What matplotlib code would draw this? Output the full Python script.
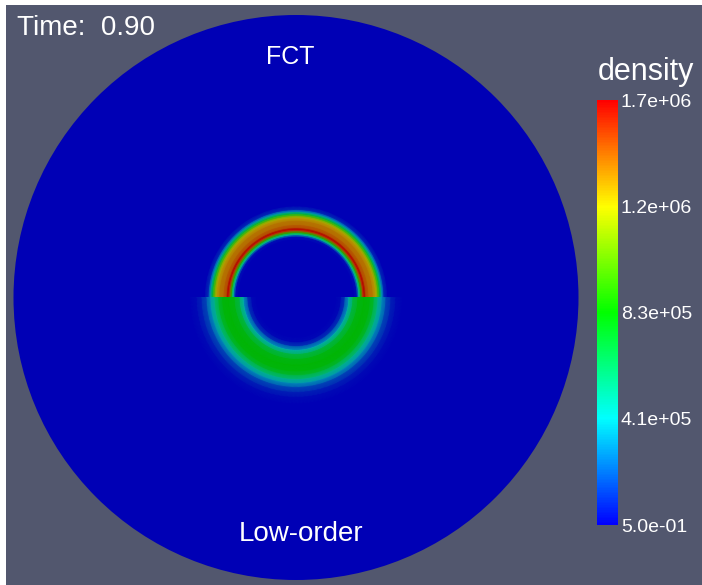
import numpy as np
import matplotlib
matplotlib.use("Agg")
import matplotlib.pyplot as plt
from matplotlib.colors import LinearSegmentedColormap, ListedColormap, Normalize
from matplotlib.patches import Circle
from matplotlib.cm import ScalarMappable

plt.rcParams['font.family'] = ['Liberation Sans', 'DejaVu Sans']

# density range shown by the colour bar
rho_min = 0.5
rho_max = 1.66e6
bar_ticks = [0.5, 4.15e5, 8.3e5, 1.245e6, 1.66e6]
bar_labels = ['5.0e-01', '4.1e+05', '8.3e+05', '1.2e+06', '1.7e+06']

# radial density profiles (r in pixels from the centre, density)
fct_r = [0, 58, 61, 63, 65, 67, 68.5, 70, 73, 77, 80, 82, 84, 86, 88, 91]
fct_rho = [0.5, 0.5, 5e4, 4.5e5, 9e5, 1.5e6, 1.66e6, 1.5e6, 1.42e6, 1.38e6,
           1.28e6, 1.05e6, 7e5, 3.5e5, 1.2e5, 0.5]
low_r = [0, 40, 45, 49, 53, 57, 62, 68, 74, 78, 82, 86, 90, 95, 100, 106]
low_rho = [0.5, 0.5, 3e4, 1.5e5, 4e5, 6.5e5, 7.8e5, 8.2e5, 8.0e5, 7.0e5,
           5.2e5, 3.4e5, 1.8e5, 8e4, 3e4, 0.5]

cx, cy, R = 296, 297.5, 282.5
bg = (0.32, 0.34, 0.43)

cmap = LinearSegmentedColormap.from_list(
    'rainbow', ['#0000ff', '#00ffff', '#00ff00', '#ffff00', '#ff0000'], N=256)
shaded = cmap(np.linspace(0, 1, 256))
shaded[:, :3] *= 0.71
cmap_lit = ListedColormap(shaded)
norm = Normalize(rho_min, rho_max)

fig = plt.figure(figsize=(7.02, 5.85), dpi=100, facecolor='white')
ax = fig.add_axes([6 / 702, 0, 696 / 702, 580 / 585])
ax.set_facecolor(bg)
ax.set_xlim(6, 702)
ax.set_ylim(585, 5)
ax.set_xticks([])
ax.set_yticks([])
for s in ax.spines.values():
    s.set_visible(False)

ax.add_patch(Circle((cx, cy), R, color=cmap_lit(0.0), lw=0))

# upper half: FCT, lower half: low-order
th_top = np.linspace(0, np.pi, 241)
T, Rr = np.meshgrid(th_top, fct_r)
C = np.tile(np.array(fct_rho)[:, None], (1, len(th_top)))
ax.pcolormesh(cx + Rr * np.cos(T), cy - Rr * np.sin(T), C, cmap=cmap_lit,
              norm=norm, shading='gouraud')

th_bot = np.linspace(np.pi, 2 * np.pi, 241)
T, Rr = np.meshgrid(th_bot, low_r)
C = np.tile(np.array(low_rho)[:, None], (1, len(th_bot)))
ax.pcolormesh(cx + Rr * np.cos(T), cy - Rr * np.sin(T), C, cmap=cmap_lit,
              norm=norm, shading='gouraud')

ax.text(290, 64, 'FCT', color='white', fontsize=18, ha='center', va='baseline')
ax.text(301, 541, 'Low-order', color='white', fontsize=20, ha='center', va='baseline')

fig.text(17 / 702, 1 - 35 / 585, 'Time:  0.90', color='white', fontsize=20,
         va='baseline')

cax = fig.add_axes([597 / 702, 60 / 585, 21 / 702, 425 / 585])
cb = fig.colorbar(ScalarMappable(norm=norm, cmap=cmap), cax=cax)
cb.outline.set_visible(False)
cb.set_ticks(bar_ticks)
cb.set_ticklabels(bar_labels)
cax.tick_params(length=0, pad=2, labelcolor='white', labelsize=14)
fig.text(646 / 702, 1 - 80 / 585, 'density', color='white', fontsize=22,
         ha='center', va='baseline')

fig.savefig('out.png', dpi=100, facecolor='white')
